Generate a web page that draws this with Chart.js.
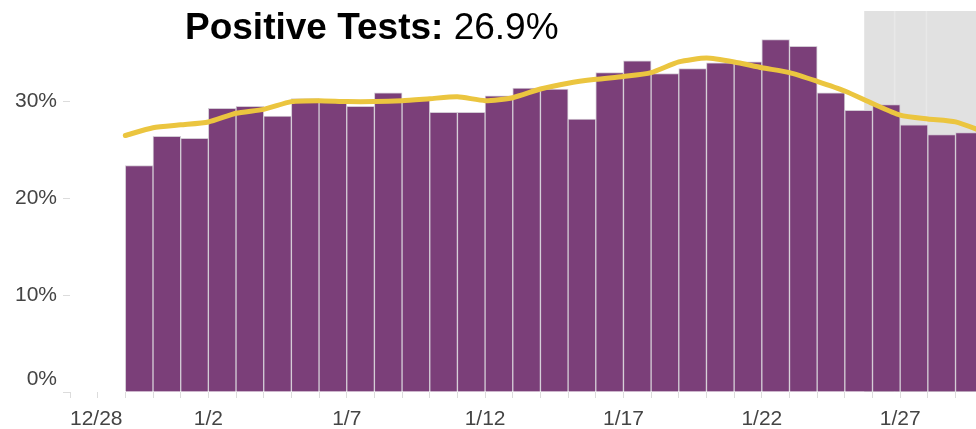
<!DOCTYPE html>
<html>
<head>
<meta charset="utf-8">
<script src="https://cdn.jsdelivr.net/npm/chart.js@4.4.1/dist/chart.umd.min.js"></script>
<style>
  html, body { margin: 0; padding: 0; background: #fff; }
  #wrap { position: relative; width: 976px; height: 429px; overflow: hidden; }
  #title {
    position: absolute; left: 185px; top: 8px;
    font-family: "Liberation Sans", Arial, sans-serif;
    font-size: 37px; line-height: 37px; color: #000; white-space: nowrap;
    z-index: 2;
  }
</style>
</head>
<body>
<div id="wrap">
  <div id="title"><b>Positive Tests:</b> 26.9%</div>
  <canvas id="chart"></canvas>
</div>
<script>
// все дни оси, по порядку (позиция = индекс)
const days = ['12/28', '12/29', '12/30', '12/31', '1/1', '1/2', '1/3', '1/4', '1/5', '1/6',
  '1/7', '1/8', '1/9', '1/10', '1/11', '1/12', '1/13', '1/14', '1/15', '1/16', '1/17',
  '1/18', '1/19', '1/20', '1/21', '1/22', '1/23', '1/24', '1/25', '1/26', '1/27',
  '1/28', '1/29', '1/30'];

const tickLabels = ['12/28', '1/2', '1/7', '1/12', '1/17', '1/22', '1/27'];
const yTicks = [0, 10, 20, 30];

// дневной процент положительных тестов
const barDates = ['12/30', '12/31', '1/1', '1/2', '1/3', '1/4', '1/5', '1/6', '1/7', '1/8',
  '1/9', '1/10', '1/11', '1/12', '1/13', '1/14', '1/15', '1/16', '1/17', '1/18', '1/19',
  '1/20', '1/21', '1/22', '1/23', '1/24', '1/25', '1/26', '1/27', '1/28', '1/29'];
const barValues = [23.4, 26.4, 26.2, 29.3, 29.5, 28.5, 30.3, 30.0, 29.5, 30.9,
  30.2, 28.9, 28.9, 30.6, 31.4, 31.3, 28.2, 33.0, 34.2, 32.9, 33.4,
  34.0, 34.1, 36.4, 35.7, 30.9, 29.1, 29.7, 27.6, 26.6, 26.8];

// скользящее среднее
const lineDates = ['12/30', '12/31', '1/1', '1/2', '1/3', '1/4', '1/5', '1/6', '1/7', '1/8',
  '1/9', '1/10', '1/11', '1/12', '1/13', '1/14', '1/15', '1/16', '1/17', '1/18', '1/19',
  '1/20', '1/21', '1/22', '1/23', '1/24', '1/25', '1/26', '1/27', '1/28', '1/29', '1/30'];
const lineValues = [26.5, 27.3, 27.6, 27.9, 28.8, 29.2, 30.0, 30.1, 30.0, 30.0,
  30.1, 30.3, 30.5, 30.1, 30.4, 31.3, 31.9, 32.3, 32.6, 33.0, 34.1,
  34.5, 34.1, 33.5, 33.0, 32.1, 31.1, 29.8, 28.6, 28.2, 27.9, 26.9];

// серая зона (неполные данные) в долях дня по оси
const shadeFrom = 28.7;
const shadeLines = [29.8, 30.95];

const dayPos = d => days.indexOf(d);

// серый фон справа
const shadePlugin = {
    id: 'shade',
    beforeDatasetsDraw(chart) {
        const { ctx, chartArea, scales } = chart;
        const x0 = scales.x.getPixelForValue(shadeFrom);
        ctx.save();
        ctx.fillStyle = '#e1e1e1';
        ctx.fillRect(x0, chartArea.top, chartArea.right - x0, chartArea.bottom - chartArea.top);
        ctx.strokeStyle = '#e8e8e8';
        ctx.lineWidth = 1.5;
        shadeLines.forEach(v => {
            const x = scales.x.getPixelForValue(v);
            ctx.beginPath();
            ctx.moveTo(x, chartArea.top);
            ctx.lineTo(x, chartArea.bottom);
            ctx.stroke();
        });
        ctx.restore();
    }
};

const tickFont = { family: '"Liberation Sans", Arial, sans-serif', size: 21 };

new Chart(document.getElementById('chart'), {
    type: 'bar',
    data: {
        datasets: [{
            type: 'line',
            data: lineDates.map((d, i) => ({ x: dayPos(d), y: lineValues[i] })),
            borderColor: '#ebc53f',
            borderWidth: 5,
            pointRadius: 0,
            tension: 0.2,
            borderCapStyle: 'round',
            borderJoinStyle: 'round',
            order: 0
        }, {
            type: 'bar',
            data: barDates.map((d, i) => ({ x: dayPos(d) + 0.5, y: barValues[i] })),
            backgroundColor: '#7b3f79',
            borderColor: '#d3cbd5',
            borderWidth: 1,
            barPercentage: 1,
            categoryPercentage: 1,
            order: 1
        }]
    },
    options: {
        responsive: true,
        maintainAspectRatio: false,
        animation: false,
        layout: { padding: { top: 11, right: 0, left: 0, bottom: 0 } },
        plugins: { legend: { display: false }, tooltip: { enabled: false } },
        scales: {
            x: {
                type: 'linear',
                min: 0,
                max: 32.74,
                offset: false,
                afterBuildTicks: s => { s.ticks = days.slice(0, 33).map((_, i) => ({ value: i })); },
                afterFit: s => { s.height = 37; s.paddingLeft = 0; s.paddingRight = 0; },
                grid: { offset: false, drawOnChartArea: false, tickLength: 6, color: '#dcdcdc' },
                border: { display: false },
                ticks: {
                    autoSkip: false,
                    maxRotation: 0,
                    align: 'inner',
                    padding: 9,
                    color: '#444',
                    font: tickFont,
                    callback: v => tickLabels.includes(days[v]) ? days[v] : ''
                }
            },
            y: {
                min: 0,
                max: 39.36,
                afterBuildTicks: s => { s.ticks = yTicks.map(v => ({ value: v })); },
                afterFit: s => { s.width = 70; s.paddingTop = 0; s.paddingBottom = 0; },
                grid: { drawOnChartArea: false, tickLength: 7, color: '#dcdcdc' },
                border: { display: false },
                ticks: {
                    padding: 6,
                    color: '#444',
                    font: tickFont,
                    // 0% чуть выше нулевой линии, как в оригинале
                    callback: v => v === 0 ? ['0%', ''] : v + '%'
                }
            }
        }
    },
    plugins: [shadePlugin]
});
</script>
</body>
</html>
